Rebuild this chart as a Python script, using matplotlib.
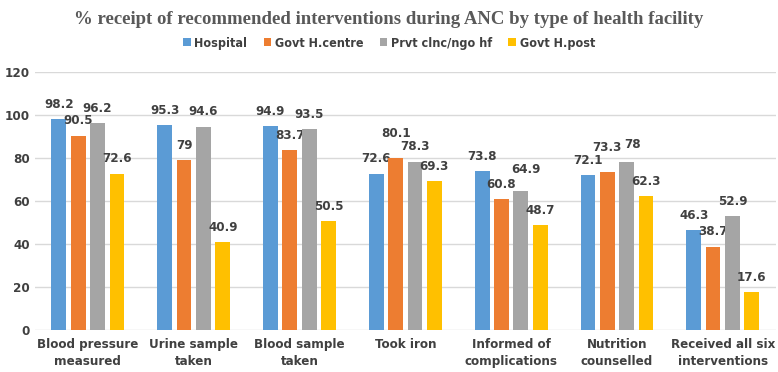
import matplotlib.pyplot as plt
import numpy as np

categories = ['Blood pressure\nmeasured', 'Urine sample\ntaken', 'Blood sample\ntaken',
              'Took iron', 'Informed of\ncomplications', 'Nutrition\ncounselled',
              'Received all six\ninterventions']
hospital = [98.2, 95.3, 94.9, 72.6, 73.8, 72.1, 46.3]
govt_hcentre = [90.5, 79, 83.7, 80.1, 60.8, 73.3, 38.7]
prvt_clinic = [96.2, 94.6, 93.5, 78.3, 64.9, 78, 52.9]
govt_hpost = [72.6, 40.9, 50.5, 69.3, 48.7, 62.3, 17.6]
series_names = ['Hospital', 'Govt H.centre', 'Prvt clnc/ngo hf', 'Govt H.post']
colors = ['#5B9BD5', '#ED7D31', '#A5A5A5', '#FFC000']

# manual label nudges (series, category) -> (dx, dy) in points, like in the Excel original
nudges = {(1, 3): (0, 7), (2, 4): (4, 4), (1, 5): (0, 7), (2, 5): (4, 2)}

txt = '#404040'
fnt = dict(family='DejaVu Sans', stretch='condensed', weight='bold')

fig = plt.figure(figsize=(7.78, 3.72), dpi=100)
ax = fig.add_axes([0.045, 0.113, 0.952, 0.693])

x = np.arange(len(categories))
step = 0.183
width = 0.14
all_series = [hospital, govt_hcentre, prvt_clinic, govt_hpost]
for i, (vals, name, c) in enumerate(zip(all_series, series_names, colors)):
    pos = x + (i - 1.5) * step
    ax.bar(pos, vals, width, color=c, label=name, zorder=3)
    for j, (p, v) in enumerate(zip(pos, vals)):
        dx, dy = nudges.get((i, j), (0, 0))
        ax.annotate(f'{v:g}', (p, v), xytext=(dx, 10.8 + dy), textcoords='offset points',
                    ha='center', va='center', fontsize=9.5, color=txt, **fnt)

ax.set_xlim(-0.5, len(categories) - 0.5)
ax.set_ylim(0, 120)
ax.set_yticks(range(0, 121, 20))
ax.grid(axis='y', color='#d9d9d9', linewidth=1, zorder=0)
for s in ax.spines.values():
    s.set_visible(False)
ax.tick_params(length=0)
ax.set_xticks(x)
ax.set_xticklabels(categories, fontsize=9.5, color=txt, linespacing=1.35, **fnt)
ax.tick_params(axis='x', pad=6)
for lab in ax.get_yticklabels():
    lab.set_fontsize(9.5)
    lab.set_fontweight('bold')
    lab.set_fontstretch('condensed')
    lab.set_color(txt)

fig.text(0.5, 0.948, '% receipt of recommended interventions during ANC by type of health facility',
         ha='center', va='center', fontsize=13.5, fontweight='bold',
         family='Liberation Serif', color='#595959')
fig.legend(loc='center', bbox_to_anchor=(0.5, 0.884), ncol=4, frameon=False,
           handlelength=0.6, handleheight=0.6, handletextpad=0.3, columnspacing=1.3,
           prop={'family': 'DejaVu Sans', 'stretch': 'condensed', 'weight': 'bold', 'size': 9})
for t in fig.legends[0].get_texts():
    t.set_color(txt)

plt.savefig('out.png', dpi=100)
